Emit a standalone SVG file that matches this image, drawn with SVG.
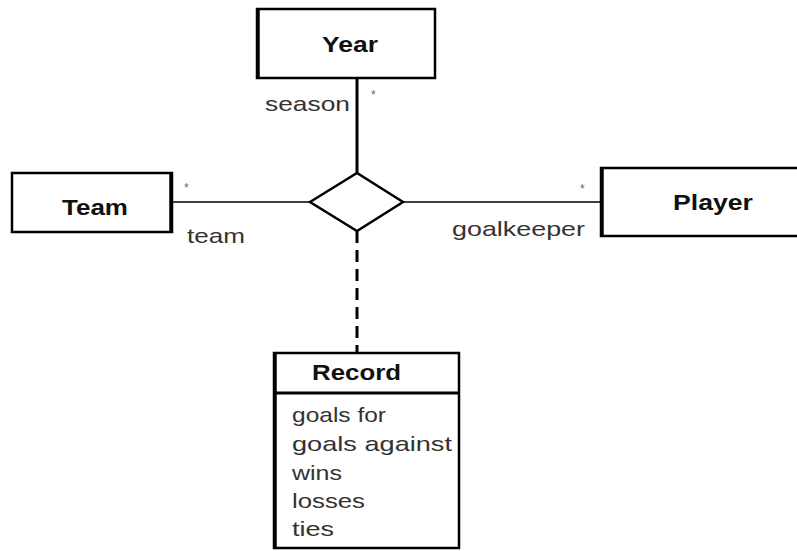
<svg xmlns="http://www.w3.org/2000/svg" width="797" height="551" viewBox="0 0 797 551">
<style>
.box{fill:#fff;stroke:#000;stroke-width:2.5}
.bold{font-family:"Liberation Sans",Arial,sans-serif;font-weight:bold;font-size:22px;fill:#111}
.lbl{font-family:"Liberation Sans",Arial,sans-serif;font-size:21px;fill:#333}
.star{font-family:"Liberation Sans",Arial,sans-serif;font-size:12px;fill:#666}
.thin{stroke:#000;stroke-width:1.6;fill:none}
</style>
<rect width="797" height="551" fill="#fff"/>
<g id="connectors">
<line class="thin" x1="172" y1="202" x2="310" y2="202"/>
<line class="thin" x1="403" y1="202" x2="601" y2="202"/>
<line x1="357" y1="78" x2="357" y2="173" stroke="#000" stroke-width="3"/>
<line x1="357" y1="231" x2="357" y2="353" stroke="#000" stroke-width="3" stroke-dasharray="12,7"/>
<text class="lbl" x="265" y="111" textLength="85" lengthAdjust="spacingAndGlyphs">season</text>
<text class="star" x="371" y="99">*</text>
<text class="lbl" x="187" y="243" textLength="58" lengthAdjust="spacingAndGlyphs">team</text>
<text class="star" x="184" y="192">*</text>
<text class="lbl" x="452" y="236" textLength="133" lengthAdjust="spacingAndGlyphs">goalkeeper</text>
<text class="star" x="580" y="193">*</text>
</g>
<g id="association">
<polygon points="310,202 357,173 403,202 357,231" fill="#fff" stroke="#000" stroke-width="2.5"/>
</g>
<g id="year">
<rect class="box" x="257" y="9" width="178" height="69"/>
<line x1="258" y1="9" x2="258" y2="78" stroke="#000" stroke-width="3.5"/>
<text class="bold" x="322" y="52" textLength="56" lengthAdjust="spacingAndGlyphs">Year</text>
</g>
<g id="team">
<rect class="box" x="12" y="173" width="160" height="59"/>
<line x1="171" y1="173" x2="171" y2="232" stroke="#000" stroke-width="3.5"/>
<text class="bold" x="62" y="215" textLength="66" lengthAdjust="spacingAndGlyphs">Team</text>
</g>
<g id="player">
<rect class="box" x="601" y="168" width="200" height="68"/>
<line x1="602" y1="168" x2="602" y2="236" stroke="#000" stroke-width="3.5"/>
<text class="bold" x="673" y="210" textLength="80" lengthAdjust="spacingAndGlyphs">Player</text>
</g>
<g id="record">
<rect class="box" x="274" y="353" width="185" height="195"/>
<line x1="275" y1="353" x2="275" y2="548" stroke="#000" stroke-width="3.5"/>
<line x1="274" y1="393" x2="459" y2="393" stroke="#000" stroke-width="3"/>
<text class="bold" x="312" y="380" textLength="89" lengthAdjust="spacingAndGlyphs">Record</text>
<text class="lbl" x="292" y="422" textLength="94" lengthAdjust="spacingAndGlyphs">goals for</text>
<text class="lbl" x="292" y="451" textLength="160" lengthAdjust="spacingAndGlyphs">goals against</text>
<text class="lbl" x="292" y="480" textLength="50" lengthAdjust="spacingAndGlyphs">wins</text>
<text class="lbl" x="292" y="508" textLength="73" lengthAdjust="spacingAndGlyphs">losses</text>
<text class="lbl" x="292" y="536" textLength="42" lengthAdjust="spacingAndGlyphs">ties</text>
</g>
</svg>
